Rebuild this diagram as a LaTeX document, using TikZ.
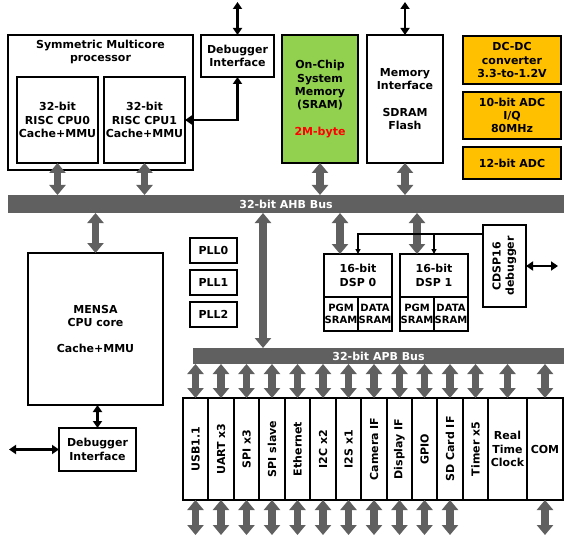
\documentclass[tikz,border=0pt]{standalone}
\usepackage{fontspec}
\setmainfont{DejaVu Sans}
\usepackage{graphicx}
\usetikzlibrary{arrows.meta,positioning}
\definecolor{busgray}{HTML}{606060}
\definecolor{socorange}{HTML}{FFC000}
\definecolor{socgreen}{HTML}{92D050}

\begin{document}
\begin{tikzpicture}[x=1pt, y=-1pt,
  font=\fontsize{11}{13.3}\selectfont\bfseries, every node/.style={align=center},
  blockbox/.style={draw=black, line width=2pt, inner sep=1pt, outer sep=0pt, fill=white},
  hot/.style={blockbox, fill=socorange},
  memcell/.style={blockbox, minimum width=34pt, minimum height=34pt, inner sep=0pt,
                  font=\fontsize{10}{12.5}\selectfont\bfseries},
  bus/.style={fill=busgray, text=white, inner sep=0pt, outer sep=0pt},
  fat/.style={{Triangle[length=10pt,width=16pt]}-{Triangle[length=10pt,width=16pt]},
              draw=busgray, line width=7.5pt},
  wire/.style={{Triangle[length=7pt,width=9pt]}-{Triangle[length=7pt,width=9pt]},
               line width=2.4pt},
  tap/.style={-{Triangle[length=5pt,width=5pt]}, line width=1.3pt},
]
\useasboundingbox (0,0) rectangle (564,537);
\coordinate (top) at (0,2);
\coordinate (bot) at (0,535);
\coordinate (leftend) at (9,0);
\coordinate (rightend) at (558,0);

% top row
\node[blockbox, minimum width=185pt, minimum height=135pt] (smp) at (100.5,102.5) {};
\node[anchor=north, inner sep=1pt] (smptitle) at ([yshift=-4pt]smp.north) {Symmetric Multicore\\processor};
\node[blockbox, minimum width=81pt, minimum height=86pt] (cpu0) at (57.5,120) {32-bit\\RISC CPU0\\Cache+MMU};
\node[blockbox, minimum width=81pt, minimum height=86pt] (cpu1) at (144.5,120) {32-bit\\RISC CPU1\\Cache+MMU};
\node[blockbox, minimum width=73pt, minimum height=42pt] (dbg1) at (237.5,56) {Debugger\\Interface};
\node[blockbox, fill=socgreen, minimum width=76pt, minimum height=128pt] (sram) at (320,99)
  {On-Chip\\System\\Memory\\(SRAM)\\[13.3pt]\textcolor{red}{2M-byte}};
\node[blockbox, minimum width=76pt, minimum height=128pt] (memif) at (405,99)
  {Memory\\Interface\\[13.3pt]SDRAM\\Flash};
\node[hot, minimum width=98pt, minimum height=48pt] (dcdc) at (512,60) {DC-DC\\converter\\3.3-to-1.2V};
\node[hot, minimum width=98pt, minimum height=47pt] (adc10) at (512,115.5) {10-bit ADC\\I/Q\\80MHz};
\node[hot, minimum width=98pt, minimum height=32pt] (adc12) at (512,163) {12-bit ADC};

\draw[wire] (dbg1.north |- top) -- (dbg1.north);
\draw[wire] (dbg1.south) |- (cpu1.east);
\draw[wire] (memif.north |- top) -- (memif.north);

% AHB bus
\node[bus, minimum width=556pt, minimum height=18pt] (ahb) at (286,204) {32-bit AHB Bus};
\foreach \src in {cpu0,cpu1,sram,memif}
  \draw[fat] (\src.south) -- (\src.south |- ahb.north);

% middle
\node[blockbox, minimum width=135pt, minimum height=152pt] (mensa) at (95.5,329)
  {MENSA\\CPU core\\[13.3pt]Cache+MMU};
\node[blockbox, minimum width=77pt, minimum height=43pt] (dbg2) at (97.5,449.5) {Debugger\\Interface};
\draw[fat] (mensa.north |- ahb.south) -- (mensa.north);
\draw[wire] (dbg2.north |- mensa.south) -- (dbg2.north);
\draw[wire] (dbg2.west) -- (dbg2.west -| leftend);

\node[blockbox, minimum width=47pt, minimum height=25pt] (pll0) at (213.5,250.5) {PLL0};
\node[blockbox, minimum width=47pt, minimum height=25pt] (pll1) at (213.5,282.5) {PLL1};
\node[blockbox, minimum width=47pt, minimum height=25pt] (pll2) at (213.5,314.5) {PLL2};

\node[blockbox, minimum width=68pt, minimum height=43pt] (dsp0) at (358,275.5) {16-bit\\DSP 0};
\node[memcell] (pgm0) at (341,314) {PGM\\SRAM};
\node[memcell] (data0) at (375,314) {DATA\\SRAM};
\node[blockbox, minimum width=68pt, minimum height=43pt] (dsp1) at (434,275.5) {16-bit\\DSP 1};
\node[memcell] (pgm1) at (417,314) {PGM\\SRAM};
\node[memcell] (data1) at (451,314) {DATA\\SRAM};
\node[blockbox, minimum width=43pt, minimum height=82pt] (cdsp) at (504.5,266)
  {\rotatebox{90}{\begin{tabular}{@{}c@{}}CDSP16\\debugger\end{tabular}}};

\coordinate (d0) at (340,230);
\coordinate (d1) at (417,230);
\coordinate (tapy) at (0,234);
\draw[fat] (d0 |- ahb.south) -- (d0 |- dsp0.north);
\draw[fat] (d1 |- ahb.south) -- (d1 |- dsp1.north);
\draw[tap] (cdsp.west |- tapy) -| (dsp0.north);
\draw[tap] (dsp1.north |- tapy) -- (dsp1.north);
\draw[wire] (cdsp.east) -- (cdsp.east -| rightend);

% APB bus and peripherals
\node[bus, minimum width=371pt, minimum height=16pt] (apb) at (378.5,356) {32-bit APB Bus};
\coordinate (link) at (263,280);
\draw[fat] (link |- ahb.south) -- (link |- apb.north);

\foreach \xl/\cw/\txt [count=\i] in {183/25/USB1.1, 208/26/UART x3, 234/25/SPI x3, 259/26/SPI slave,
    285/25/Ethernet, 310/26/I2C x2, 336/25/I2S x1, 361/26/Camera IF, 387/25/Display IF,
    412/25/GPIO, 437/26/SD Card IF, 463/25/Timer x5}
  \node[blockbox, anchor=north west, minimum width=\cw pt, minimum height=102pt] (p\i) at (\xl,398)
    {\rotatebox{90}{\txt}};
\node[blockbox, anchor=north west, minimum width=39pt, minimum height=102pt] (p13) at (488,398) {Real\\Time\\Clock};
\node[blockbox, anchor=north west, minimum width=36pt, minimum height=102pt] (p14) at (527,398) {COM};

\foreach \i in {1,...,14}
  \draw[fat] (p\i.north |- apb.south) -- (p\i.north);
\foreach \i in {1,...,11,14}
  \draw[fat] (p\i.south) -- (p\i.south |- bot);
\end{tikzpicture}
\end{document}
